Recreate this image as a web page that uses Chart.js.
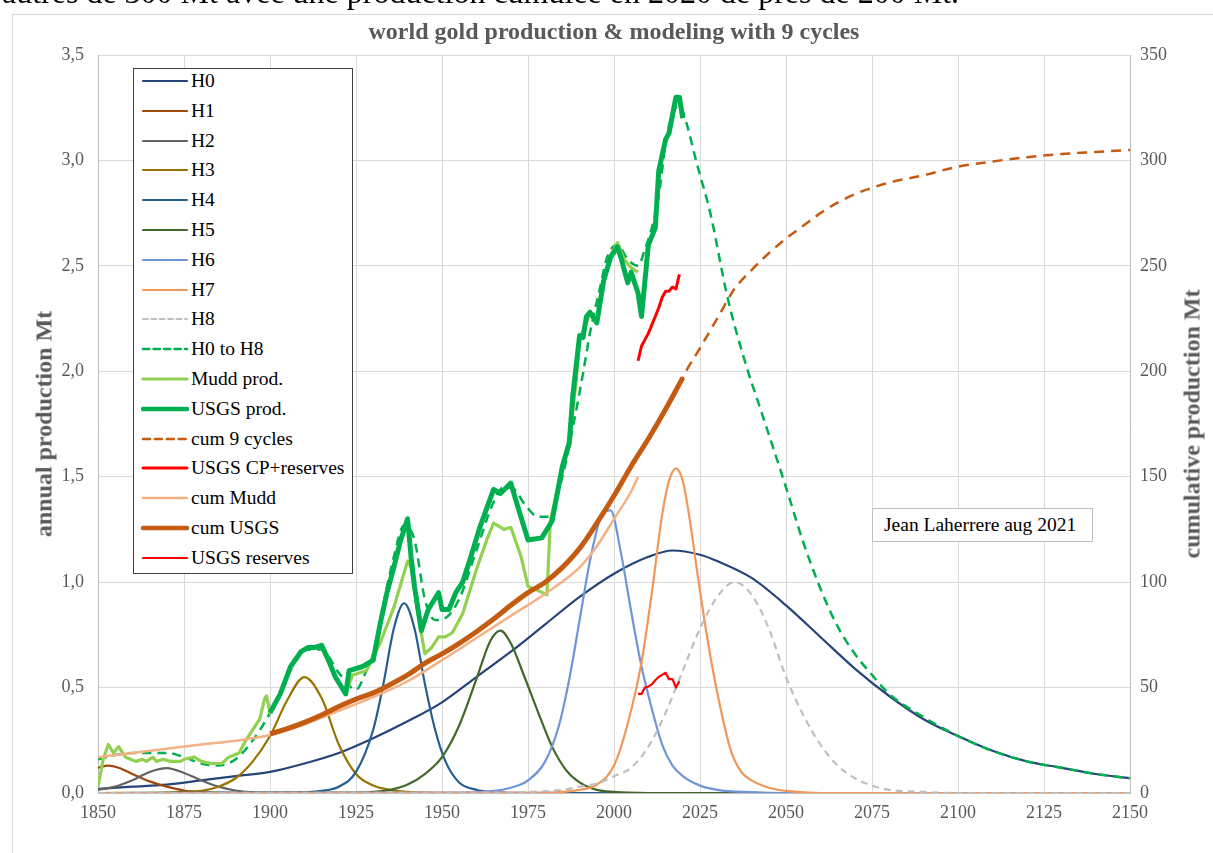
<!DOCTYPE html>
<html>
<head>
<meta charset="utf-8">
<script src="https://cdn.jsdelivr.net/npm/chart.js@4.4.1/dist/chart.umd.min.js"></script>
<style>
  html, body { margin: 0; padding: 0; background: #fff; overflow: hidden; }
  body { width: 1213px; height: 853px; position: relative; font-family: "Liberation Serif", "DejaVu Serif", serif; }
  #frame { position: absolute; left: 12px; top: 14px; width: 1240px; height: 900px; border: 1px solid #d9d9d9; }
  #chart { position: absolute; left: 0; top: 0; }
  #topText { position: absolute; left: 2px; top: -24px; font-size: 32px; line-height: 32px; color: #000; white-space: nowrap; }
  #title { position: absolute; left: 614px; top: 18px; transform: translateX(-50%); font-size: 24px; line-height: 26px; font-weight: bold; color: #595959; white-space: nowrap; }
  .axTitle { position: absolute; top: 424px; transform: translate(-50%, -50%) rotate(-90deg); font-size: 24px; font-weight: bold; color: #595959; white-space: nowrap; }
  #legend { position: absolute; left: 133px; top: 68px; width: 218px; height: 504px; border: 1px solid #404040; background: #fff; }
  .row { position: absolute; left: 0; height: 22px; line-height: 22px; font-size: 19.5px; color: #000; white-space: nowrap; }
  .row svg { position: absolute; left: 7px; top: 1px; }
  .row span { position: absolute; left: 57px; top: 0; }
  #note { position: absolute; left: 872px; top: 508px; width: 208px; height: 32px; line-height: 32px; padding-left: 11px; border: 1px solid #bfbfbf; background: #fff; font-size: 19.5px; color: #000; white-space: nowrap; }
</style>
</head>
<body>
<div id="frame"></div>
<canvas id="chart" width="1213" height="853"></canvas>
<div id="topText">autres de 300 Mt avec une production cumulée en 2020 de près de 200 Mt.</div>
<div id="title">world gold production &amp; modeling with 9 cycles</div>
<div class="axTitle" style="left:44px">annual production Mt</div>
<div class="axTitle" style="left:1192px">cumulative production Mt</div>
<div id="legend"></div>
<div id="note">Jean Laherrere aug 2021</div>
<script>
// axes
const xMin = 1850, xMax = 2150, xStep = 25;
const prodMax = 3.5, prodStep = 0.5;
const cumMax = 350, cumStep = 50;

const seriesNames = ['H0', 'H1', 'H2', 'H3', 'H4', 'H5', 'H6', 'H7', 'H8', 'H0 to H8', 'Mudd prod.', 'USGS prod.',
  'cum 9 cycles', 'USGS CP+reserves', 'cum Mudd', 'cum USGS', 'USGS reserves'];

// cycles (annual production, Mt)
const h0Years = [1850,1860,1870,1880,1890,1900,1910,1920,1930,1940,1950,1960,1970,1980,1990,2000,2010,2017,2025,2030,2040,2050,2060,2070,2080,2090,2100,2110,2120,2130,2140,2150];
const h0Vals  = [0.02,0.03,0.04,0.06,0.08,0.10,0.14,0.19,0.26,0.34,0.43,0.55,0.67,0.80,0.93,1.04,1.12,1.15,1.13,1.10,1.02,0.89,0.74,0.59,0.46,0.35,0.27,0.20,0.15,0.12,0.09,0.07];
const h1Years = [1850,1853,1856,1860,1865,1870,1875,1880,1885,1890,2150];
const h1Vals  = [0.12,0.13,0.12,0.09,0.055,0.03,0.012,0.004,0.001,0,0];
const h2Years = [1850,1855,1860,1865,1870,1875,1880,1885,1890,1895,1900,2150];
const h2Vals  = [0.015,0.03,0.06,0.10,0.118,0.095,0.06,0.03,0.012,0.003,0,0];
const h3Years = [1850,1870,1875,1880,1885,1890,1895,1900,1905,1910,1915,1920,1925,1930,1935,1940,1950,2150];
const h3Vals  = [0,0.002,0.005,0.01,0.03,0.07,0.15,0.27,0.44,0.55,0.45,0.23,0.09,0.035,0.015,0.005,0,0];
const h4Years = [1850,1910,1915,1920,1925,1930,1933,1936,1939,1942,1945,1948,1951,1955,1960,1965,1975,2150];
const h4Vals  = [0,0.003,0.01,0.03,0.10,0.30,0.52,0.78,0.90,0.78,0.52,0.30,0.15,0.05,0.015,0.004,0,0];
const h5Years = [1850,1925,1930,1935,1940,1945,1950,1955,1960,1964,1967,1970,1974,1978,1982,1986,1990,1995,2000,2010,2150];
const h5Vals  = [0,0.002,0.005,0.015,0.04,0.09,0.17,0.32,0.54,0.72,0.77,0.71,0.55,0.38,0.22,0.11,0.05,0.015,0.005,0,0];
const h6Years = [1850,1955,1960,1965,1970,1975,1980,1984,1987,1990,1993,1996,1999,2002,2005,2008,2011,2014,2017,2020,2025,2030,2040,2050,2150];
const h6Vals  = [0,0.002,0.005,0.01,0.025,0.06,0.15,0.32,0.54,0.82,1.10,1.30,1.34,1.14,0.86,0.60,0.40,0.23,0.13,0.08,0.035,0.015,0.004,0,0];
const h7Years = [1850,1980,1985,1990,1995,2000,2004,2008,2011,2014,2016,2018,2020,2022,2024,2026,2028,2031,2034,2037,2040,2045,2050,2060,2150];
const h7Vals  = [0,0.002,0.005,0.015,0.04,0.13,0.33,0.62,0.95,1.32,1.48,1.54,1.48,1.30,1.07,0.85,0.65,0.40,0.20,0.10,0.06,0.025,0.01,0,0];
const h8Years = [1850,1970,1975,1985,1990,1996,2000,2005,2010,2015,2020,2025,2030,2035,2040,2045,2050,2055,2060,2065,2070,2075,2080,2090,2100,2150];
const h8Vals  = [0,0.002,0.005,0.015,0.03,0.05,0.08,0.12,0.22,0.38,0.58,0.78,0.93,1.0,0.94,0.78,0.55,0.37,0.23,0.13,0.07,0.035,0.015,0.005,0,0];
const sumYears = [1850,1855,1860,1865,1870,1875,1880,1885,1890,1895,1900,1905,1910,1915,1920,1925,1928,1930,1933,1936,1939,1942,1945,1948,1951,1955,1960,1965,1968,1971,1974,1978,1981,1985,1988,1991,1993,1996,1998,2001,2004,2007,2009,2011,2013,2015,2017,2019,2021,2024,2028,2033,2038,2043,2050,2055,2060,2065,2070,2075,2080,2090,2100,2110,2120,2130,2140,2150];
const sumVals  = [0.16,0.18,0.19,0.19,0.19,0.17,0.14,0.13,0.16,0.25,0.38,0.55,0.68,0.68,0.57,0.49,0.58,0.66,0.90,1.12,1.27,1.20,0.92,0.82,0.83,0.92,1.15,1.38,1.45,1.44,1.37,1.31,1.31,1.50,1.73,1.99,2.18,2.40,2.54,2.60,2.53,2.50,2.58,2.68,2.83,3.08,3.22,3.26,3.18,2.99,2.75,2.35,2.05,1.80,1.45,1.19,0.97,0.79,0.66,0.56,0.47,0.36,0.27,0.20,0.15,0.12,0.09,0.07];

// observed production (Mt)
const muddYears = [1850,1851.5,1853,1854.5,1856,1858,1861,1863,1864,1866,1867,1869,1871,1874,1875,1878,1880,1883,1886,1888,1891,1893,1895,1897,1898.5,1899,1900,1903,1906,1909,1911,1915,1917,1919,1922,1924,1928,1932,1936,1940,1941,1943,1945,1947,1949,1951,1953,1956,1960,1963,1965,1968,1970,1973,1975,1978,1980.5,1981.5,1985,1987,1989,1990,1993,1995,1997,1999,2001,2003,2005,2007];
const muddVals  = [0.03,0.16,0.23,0.19,0.22,0.17,0.15,0.16,0.15,0.17,0.15,0.16,0.15,0.15,0.16,0.17,0.15,0.14,0.14,0.17,0.19,0.25,0.30,0.35,0.45,0.46,0.38,0.47,0.60,0.67,0.69,0.69,0.62,0.55,0.47,0.56,0.58,0.71,0.88,1.10,1.07,0.85,0.66,0.69,0.74,0.74,0.76,0.85,1.06,1.20,1.28,1.25,1.26,1.12,0.98,0.96,0.94,1.29,1.55,1.68,1.95,2.15,2.27,2.24,2.43,2.55,2.61,2.53,2.49,2.47];
const usgsYears = [1900,1901,1903,1906,1909,1911,1913,1915,1917,1919,1922,1923,1927,1930,1932,1934,1936,1938,1940,1941,1942,1944,1946,1949,1950,1952,1954,1956,1958,1961,1965,1967,1970,1972,1975,1979,1982,1985,1987,1988,1990,1991,1992,1993,1995,1997,1999,2001,2002,2004,2005,2007,2008,2010,2012,2013,2015,2016,2018,2019,2020];
const usgsVals  = [0.38,0.41,0.47,0.60,0.67,0.69,0.69,0.70,0.63,0.55,0.47,0.58,0.60,0.63,0.80,0.95,1.07,1.20,1.30,1.12,0.98,0.77,0.87,0.95,0.87,0.87,0.95,1.00,1.10,1.26,1.44,1.42,1.47,1.36,1.20,1.21,1.29,1.55,1.66,1.88,2.17,2.16,2.26,2.28,2.23,2.43,2.54,2.59,2.54,2.42,2.47,2.37,2.26,2.60,2.68,2.95,3.10,3.13,3.30,3.30,3.20];

// cumulative (Mt, right axis)
const cum9Years = [2019,2020,2025,2030,2035,2040,2045,2050,2055,2060,2065,2070,2075,2080,2090,2100,2110,2120,2130,2140,2150];
const cum9Vals  = [193,197,211,225,239,248,256,263,269,275,280,284,287,289.5,293,297,299.5,301.5,303,304,305];
const cpResYears = [2007,2008,2009,2010,2011,2012,2013,2014,2015,2016,2017,2018,2019];
const cpResVals  = [205,212,215,218,222,226,230,235,238,238,240,239,246];
const cumMuddYears = [1850,1860,1870,1880,1890,1900,1910,1920,1930,1940,1950,1960,1970,1980,1990,1995,2000,2005,2007];
const cumMuddVals  = [17,19,21,23,24.8,27.5,32.5,39,45.5,53,63,73.5,84,94.5,107,117,130,143,150];
const cumUsgsYears = [1900,1905,1910,1915,1920,1925,1930,1935,1940,1945,1950,1955,1960,1965,1970,1975,1980,1985,1990,1995,2000,2005,2010,2015,2020];
const cumUsgsVals  = [28,30.5,33.5,37,41,44.5,47.5,51.5,56,61.5,66,71,76.5,82.5,89,95,100,107,116,128,141,155,168,182,197];
const resYears = [2007,2008,2009,2010,2011,2012,2013,2014,2015,2016,2017,2018,2019];
const resVals  = [47,47,50,50.5,51.5,53.5,55,56,57,54,54,50,53];

const seriesData = [
  [h0Years, h0Vals], [h1Years, h1Vals], [h2Years, h2Vals], [h3Years, h3Vals], [h4Years, h4Vals],
  [h5Years, h5Vals], [h6Years, h6Vals], [h7Years, h7Vals], [h8Years, h8Vals], [sumYears, sumVals],
  [muddYears, muddVals], [usgsYears, usgsVals], [cum9Years, cum9Vals], [cpResYears, cpResVals],
  [cumMuddYears, cumMuddVals], [cumUsgsYears, cumUsgsVals], [resYears, resVals]
];

const styles = [
  { c: '#264478', w: 2.2, smooth: true },
  { c: '#9E480E', w: 2.2, smooth: true },
  { c: '#636363', w: 2.2, smooth: true },
  { c: '#997300', w: 2.2, smooth: true },
  { c: '#255E91', w: 2.2, smooth: true },
  { c: '#43682B', w: 2.2, smooth: true },
  { c: '#6F95D8', w: 2.2, smooth: true },
  { c: '#F1975A', w: 2.2, smooth: true },
  { c: '#BFBFBF', w: 2.2, smooth: true, dash: [7, 5] },
  { c: '#00B050', w: 2.5, smooth: true, dash: [9, 6] },
  { c: '#92D050', w: 3.2 },
  { c: '#00B050', w: 5 },
  { c: '#C55A11', w: 2.5, smooth: true, dash: [10, 7], axis: 'y1' },
  { c: '#FF0000', w: 3, axis: 'y1' },
  { c: '#F4B183', w: 2.5, smooth: true, axis: 'y1' },
  { c: '#C55A11', w: 5, smooth: true, axis: 'y1' },
  { c: '#FF0000', w: 2.2, axis: 'y1' }
];

function pts(xs, ys) {
  return xs.map((x, i) => ({ x: x, y: ys[i] }));
}

const datasets = seriesData.map((s, i) => ({
  label: seriesNames[i],
  data: pts(s[0], s[1]),
  yAxisID: styles[i].axis || 'y',
  borderColor: styles[i].c,
  backgroundColor: styles[i].c,
  borderWidth: styles[i].w,
  borderDash: styles[i].dash || [],
  borderJoinStyle: 'round',
  cubicInterpolationMode: styles[i].smooth ? 'monotone' : 'default',
  tension: 0,
  pointRadius: 0,
  fill: false,
  order: seriesNames.length - i // later series on top, like the original
}));

const tickFont = { family: 'Liberation Serif', size: 18 };

const chart = new Chart(document.getElementById('chart'), {
  type: 'line',
  data: { datasets: datasets },
  options: {
    responsive: false,
    animation: false,
    layout: { padding: { top: 55, left: 0, right: 0, bottom: 0 } },
    plugins: { legend: { display: false }, title: { display: false }, tooltip: { enabled: false } },
    scales: {
      x: {
        type: 'linear', min: xMin, max: xMax,
        ticks: { stepSize: xStep, color: '#595959', font: tickFont, padding: 9, maxRotation: 0, callback: v => String(v) },
        grid: { color: '#d9d9d9', drawTicks: false },
        border: { color: '#bfbfbf' },
        afterFit: s => { s.height = 60; }
      },
      y: {
        position: 'left', min: 0, max: prodMax,
        ticks: { stepSize: prodStep, color: '#595959', font: tickFont, padding: 14, callback: v => v.toFixed(1).replace('.', ',') },
        grid: { color: '#d9d9d9', drawTicks: false },
        border: { color: '#bfbfbf' },
        afterFit: s => { s.width = 98; }
      },
      y1: {
        position: 'right', min: 0, max: cumMax,
        ticks: { stepSize: cumStep, color: '#595959', font: tickFont, padding: 10, callback: v => String(v) },
        grid: { drawOnChartArea: false, drawTicks: false },
        border: { color: '#bfbfbf' },
        afterFit: s => { s.width = 83; }
      }
    }
  }
});

// legend box inside the plot, built from the datasets
const legend = document.getElementById('legend');
chart.data.datasets.forEach((ds, i) => {
  const row = document.createElement('div');
  row.className = 'row';
  row.style.top = (1 + i * 29.8) + 'px';
  const dash = ds.borderDash.length ? ` stroke-dasharray="${ds.borderDash.map(d => d * 0.7).join(' ')}"` : '';
  row.innerHTML = `<svg width="48" height="20"><line x1="2" y1="10" x2="46" y2="10" stroke="${ds.borderColor}" stroke-width="${Math.min(ds.borderWidth, 4.5)}" stroke-linecap="round"${dash}/></svg><span>${ds.label}</span>`;
  legend.appendChild(row);
});
</script>
</body>
</html>
